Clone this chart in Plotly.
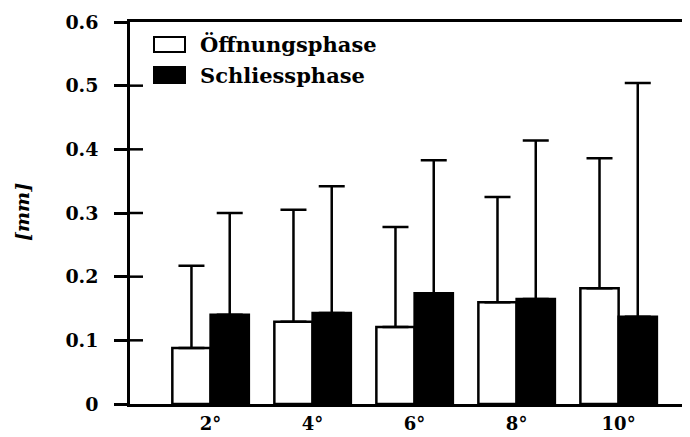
import plotly.graph_objects as go

categories = ["2°", "4°", "6°", "8°", "10°"]
oeffnung_mean = [0.088, 0.129, 0.121, 0.160, 0.182]
oeffnung_sd = [0.129, 0.176, 0.157, 0.165, 0.204]
schliess_mean = [0.140, 0.143, 0.174, 0.165, 0.137]
schliess_sd = [0.160, 0.199, 0.209, 0.249, 0.367]
ytick_vals = [0, 0.1, 0.2, 0.3, 0.4, 0.5, 0.6]
ytick_text = ["0", "0.1", "0.2", "0.3", "0.4", "0.5", "0.6"]
series_names = ["Öffnungsphase", "Schliessphase"]

FONT = "DejaVu Serif"

fig = go.Figure()
fig.add_trace(go.Bar(
    x=categories, y=oeffnung_mean, name=series_names[0],
    marker=dict(color="white", line=dict(color="black", width=2.5)),
    error_y=dict(type="data", array=oeffnung_sd, arrayminus=[0]*5, symmetric=False,
                 color="black", thickness=2.5, width=13),
    showlegend=False,
))
fig.add_trace(go.Bar(
    x=categories, y=schliess_mean, name=series_names[1],
    marker=dict(color="black", line=dict(color="black", width=2.5)),
    error_y=dict(type="data", array=schliess_sd, arrayminus=[0]*5, symmetric=False,
                 color="black", thickness=2.5, width=13),
    showlegend=False,
))

# page body has an 8px default margin: size the figure so the window shows it fully
OFF = 8
WIN_W, WIN_H = 690, 437
PL, PR, PT, PB = 130, 688, 22, 404  # plot area in window pixels
W, H = WIN_W - OFF, WIN_H - OFF
L, T = PL - OFF, PT - OFF
R = W - (PR - OFF)
B = H - (PB - OFF)
pw, ph = PR - PL, PB - PT

def px(x):
    return (x - PL) / pw

def py(y):
    return (PB - y) / ph

shapes = []
# inside half of the crossing ticks
for v in ytick_vals[1:-1]:
    shapes.append(dict(type="line", xref="paper", yref="y", x0=0, x1=13 / pw, y0=v, y1=v,
                       line=dict(color="black", width=2.5)))
# manual legend swatches
shapes.append(dict(type="rect", xref="paper", yref="paper", x0=px(154), x1=px(185),
                   y0=py(52), y1=py(37), fillcolor="white", line=dict(color="black", width=2)))
shapes.append(dict(type="rect", xref="paper", yref="paper", x0=px(154), x1=px(185),
                   y0=py(83), y1=py(67), fillcolor="black", line=dict(color="black", width=2)))

annotations = [
    dict(text="<b>" + series_names[0] + "</b>", xref="paper", yref="paper", x=px(198), y=py(44),
         xanchor="left", yanchor="middle", showarrow=False, font=dict(family=FONT, size=21, color="black")),
    dict(text="<b>" + series_names[1] + "</b>", xref="paper", yref="paper", x=px(198), y=py(75),
         xanchor="left", yanchor="middle", showarrow=False, font=dict(family=FONT, size=21, color="black")),
    dict(text="<b><i>[mm]</i></b>", xref="paper", yref="paper", x=px(22), y=py(212),
         xanchor="center", yanchor="middle", textangle=-90, showarrow=False,
         font=dict(family=FONT, size=19, color="black")),
]

fig.update_layout(
    template="none",
    width=W, height=H,
    margin=dict(l=L, r=R, t=T, b=B, pad=0),
    paper_bgcolor="white", plot_bgcolor="white",
    barmode="group", bargap=0.25, bargroupgap=0,
    font=dict(family=FONT, size=19, color="black"),
    shapes=shapes, annotations=annotations,
    xaxis=dict(range=[-0.79, 4.68], showline=True, linecolor="black", linewidth=2.5, mirror=True,
               ticks="", showgrid=False, automargin=False,
               tickfont=dict(family=FONT, size=18, color="black", weight="bold"),
               ticklabelstandoff=2),
    yaxis=dict(range=[0, 0.6], showline=True, linecolor="black", linewidth=2.5, mirror=True,
               ticks="outside", ticklen=13, tickwidth=2.5, tickcolor="black", automargin=False,
               tickvals=ytick_vals, ticktext=ytick_text, showgrid=False, zeroline=False,
               tickfont=dict(family=FONT, size=19, color="black", weight="bold"),
               ticklabelstandoff=12),
)

fig.write_html("out.html")
